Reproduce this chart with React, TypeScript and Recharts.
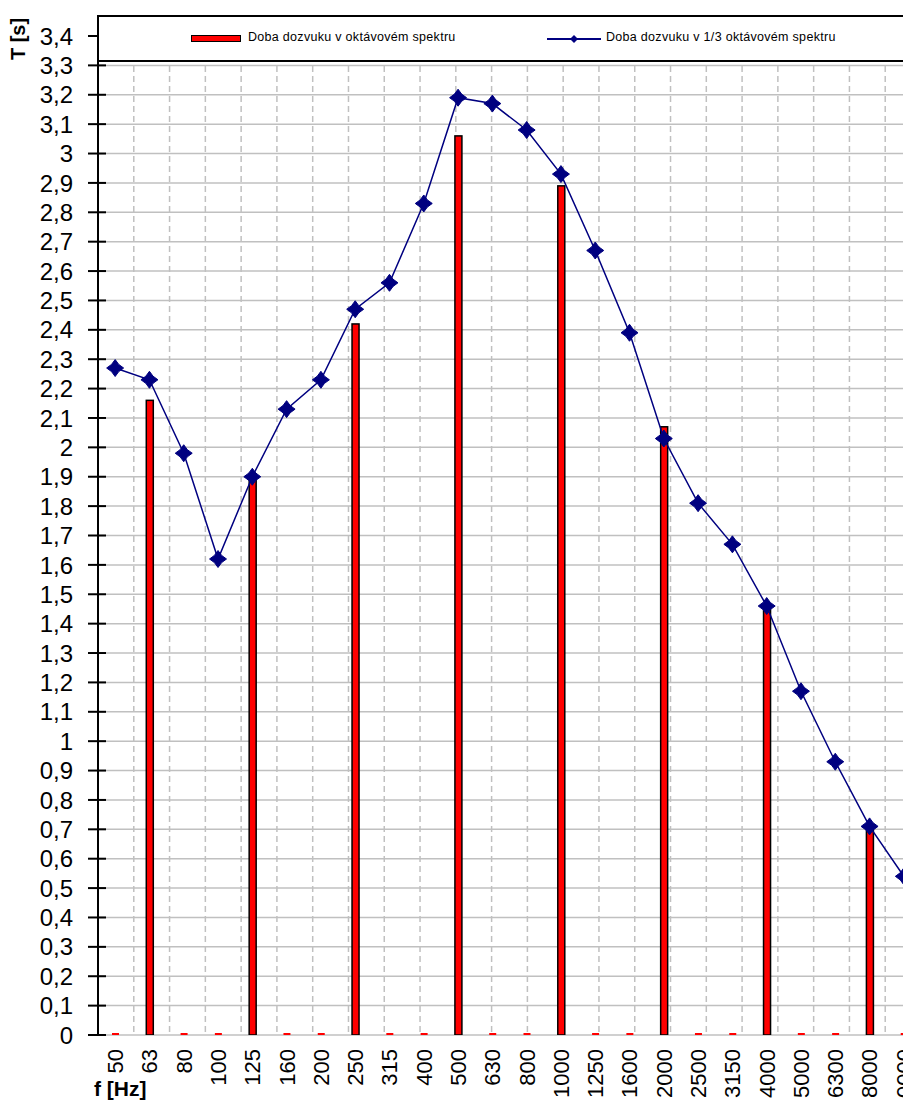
import React from "react";
import {
  ComposedChart,
  Bar,
  Line,
  XAxis,
  YAxis,
  CartesianGrid,
  Legend,
} from "recharts";

// kmitočty (Hz)
const freqs = [
  "50", "63", "80", "100", "125", "160", "200", "250", "315", "400", "500", "630",
  "800", "1000", "1250", "1600", "2000", "2500", "3150", "4000", "5000", "6300", "8000", "10000",
];

// doba dozvuku v oktávovém spektru (jen oktávová pásma, jinde 0)
const octaveT = [
  0, 2.16, 0, 0, 1.91, 0, 0, 2.42, 0, 0, 3.06, 0,
  0, 2.89, 0, 0, 2.07, 0, 0, 1.45, 0, 0, 0.71, 0,
];

// doba dozvuku v 1/3 oktávovém spektru
const thirdT = [
  2.27, 2.23, 1.98, 1.62, 1.9, 2.13, 2.23, 2.47, 2.56, 2.83, 3.19, 3.17,
  3.08, 2.93, 2.67, 2.39, 2.03, 1.81, 1.67, 1.46, 1.17, 0.93, 0.71, 0.54,
];

const yTicks = [
  0, 0.1, 0.2, 0.3, 0.4, 0.5, 0.6, 0.7, 0.8, 0.9, 1, 1.1, 1.2, 1.3, 1.4, 1.5, 1.6,
  1.7, 1.8, 1.9, 2, 2.1, 2.2, 2.3, 2.4, 2.5, 2.6, 2.7, 2.8, 2.9, 3, 3.1, 3.2, 3.3, 3.4,
];

// hranice pásem pro mřížku
const bandEdges = freqs.map((_, i) => i).concat([freqs.length]);

const data = freqs.map((f, i) => ({ f, octave: octaveT[i], third: thirdT[i] }));

const FONT = "'Liberation Sans', Arial, sans-serif";
const NAVY = "#000080";

const Diamond = (props: any) => {
  const { cx, cy } = props;
  if (cx == null || cy == null) return null;
  const r = 8.5;
  const k = 3.6;
  const d = `M${cx},${cy - r} L${cx + k},${cy - k} L${cx + r},${cy} L${cx + k},${cy + k} L${cx},${cy + r} L${cx - k},${cy + k} L${cx - r},${cy} L${cx - k},${cy - k} Z`;
  return <path d={d} fill={NAVY} stroke={NAVY} strokeWidth={1} />;
};

const OctaveBar = (props: any) => {
  const { x, y, width, height, payload } = props;
  if (!payload || !payload.octave) {
    return <rect x={x} y={y + height - 2} width={width} height={2} fill="#ff0000" />;
  }
  return (
    <rect x={x} y={y} width={width} height={height} fill="#ff0000" stroke="#000" strokeWidth={1.5} />
  );
};

const YTick = (props: any) => {
  const { x, y, payload } = props;
  const label = String(payload.value).replace(".", ",");
  return (
    <g>
      <line x1={x - 10} x2={x + 8} y1={y} y2={y} stroke="#000" strokeWidth={2} />
      <text x={x - 25} y={y} dy="0.36em" textAnchor="end" fontSize={24} fill="#000" fontFamily={FONT}>
        {label}
      </text>
    </g>
  );
};

const EdgeTick = (props: any) => {
  const { x, y } = props;
  return <line x1={x} x2={x} y1={y - 7} y2={y + 8} stroke="#000" strokeWidth={2} />;
};

const FreqTick = (props: any) => {
  const { x, y, payload } = props;
  return (
    <text
      x={x}
      y={y + 14}
      dy="0.36em"
      textAnchor="end"
      transform={`rotate(-90, ${x}, ${y + 14})`}
      fontSize={22}
      fill="#000"
      fontFamily={FONT}
    >
      {payload.value}
    </text>
  );
};

const LegendBox = () => (
  <div
    style={{
      position: "relative",
      width: 830,
      height: 43,
      background: "#fff",
      borderTop: "2px solid #000",
      borderBottom: "2px solid #000",
      borderLeft: "2px solid #000",
      fontFamily: FONT,
      fontSize: 12.5,
      color: "#000",
    }}
  >
    <div
      style={{
        position: "absolute",
        left: 92,
        top: 18,
        width: 48,
        height: 5,
        background: "#ff0000",
        border: "1.5px solid #000",
      }}
    />
    <span style={{ position: "absolute", left: 149, top: 13, whiteSpace: "nowrap", letterSpacing: 0.3 }}>
      Doba dozvuku v oktávovém spektru
    </span>
    <svg style={{ position: "absolute", left: 447, top: 13 }} width={56} height={20}>
      <line x1={1} x2={55} y1={9} y2={9} stroke={NAVY} strokeWidth={2} />
      <path d="M28,5 L32,9 L28,13 L24,9 Z" fill={NAVY} />
    </svg>
    <span style={{ position: "absolute", left: 507, top: 13, whiteSpace: "nowrap", letterSpacing: 0.3 }}>
      Doba dozvuku v 1/3 oktávovém spektru
    </span>
  </div>
);

const App = () => {
  return (
    <div style={{ position: "relative", width: 903, height: 1094, overflow: "hidden", fontFamily: FONT }}>
      <ComposedChart
        width={913}
        height={1094}
        data={data}
        margin={{ top: 28, right: 0, bottom: 0, left: 0 }}
        barGap={0}
      >
        <CartesianGrid xAxisId="g" horizontal={true} vertical={false} stroke="#c0c0c0" strokeWidth={1.5} />
        <CartesianGrid
          xAxisId="g"
          horizontal={false}
          vertical={true}
          stroke="#c0c0c0"
          strokeWidth={1.5}
          strokeDasharray="6 4"
        />
        <XAxis
          xAxisId="g"
          type="number"
          domain={[0, freqs.length]}
          ticks={bandEdges}
          interval={0}
          height={0}
          tickSize={0}
          tickMargin={0}
          tickLine={false}
          axisLine={{ stroke: "#000", strokeWidth: 2 }}
          tick={<EdgeTick />}
        />
        <XAxis
          xAxisId="c"
          dataKey="f"
          type="category"
          interval={0}
          height={67}
          tickSize={0}
          tickMargin={0}
          tickLine={false}
          axisLine={false}
          tick={<FreqTick />}
        />
        <YAxis
          domain={[0, 3.4]}
          ticks={yTicks}
          interval={0}
          width={90}
          tickSize={0}
          tickMargin={0}
          tickLine={false}
          axisLine={{ stroke: "#000", strokeWidth: 2 }}
          tick={<YTick />}
          allowDataOverflow={true}
        />
        <Bar
          xAxisId="c"
          dataKey="octave"
          name="Doba dozvuku v oktávovém spektru"
          barSize={7}
          minPointSize={2}
          fill="#ff0000"
          shape={<OctaveBar />}
          isAnimationActive={false}
        />
        <Line
          xAxisId="c"
          type="linear"
          dataKey="third"
          name="Doba dozvuku v 1/3 oktávovém spektru"
          stroke={NAVY}
          strokeWidth={1.5}
          dot={<Diamond />}
          activeDot={false}
          isAnimationActive={false}
        />
        <Legend
          layout="vertical"
          align="center"
          verticalAlign="middle"
          content={<LegendBox />}
          wrapperStyle={{ top: 7, left: 89, width: 830, height: 47, margin: 0 }}
        />
      </ComposedChart>
      <div
        style={{
          position: "absolute",
          left: 0,
          top: 10,
          width: 20,
          height: 42,
          fontWeight: "bold",
          fontSize: 20,
        }}
      >
        <div
          style={{
            position: "absolute",
            left: 10,
            top: 21,
            transform: "translate(-50%, -50%) rotate(-90deg)",
            whiteSpace: "nowrap",
          }}
        >
          T [s]
        </div>
      </div>
      <div
        style={{
          position: "absolute",
          left: 86,
          top: 1069,
          fontWeight: "bold",
          fontSize: 21,
          whiteSpace: "nowrap",
        }}
      >
        f [Hz]
      </div>
    </div>
  );
};

export default App;
